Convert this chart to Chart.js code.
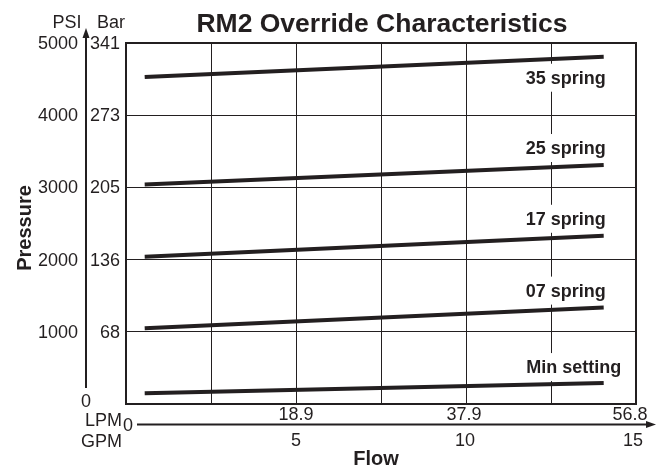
<!DOCTYPE html>
<html><head><meta charset="utf-8">
<script src="https://cdn.jsdelivr.net/npm/chart.js@4/dist/chart.umd.min.js"></script>
<style>html,body{margin:0;padding:0;background:#fff}#wrap{width:660px;height:469px}</style>
</head><body><div id="wrap"><canvas id="c" width="660" height="469"></canvas></div>
<script>
// ---- data ----
const flowGPM = [0.55, 14.05];
const seriesNames = ['Min setting', '07 spring', '17 spring', '25 spring', '35 spring'];
const minSetting = [150, 290];
const spring07 = [1050, 1335];
const spring17 = [2040, 2330];
const spring25 = [3040, 3310];
const spring35 = [4530, 4810];
const psiTicks = [0, 1000, 2000, 3000, 4000, 5000];
const barTicks = ['', '68', '136', '205', '273', '341'];
const gpmTicks = [5, 10, 15];
const lpmTicks = ['18.9', '37.9', '56.8'];
const titleText = 'RM2 Override Characteristics';

const INK = '#231f20';
const FONT = "'Liberation Sans', Arial, Helvetica, sans-serif";
const seriesValues = [minSetting, spring07, spring17, spring25, spring35];
// label offsets from the end point of each line (px)
const labelOffsets = [[-30, -16], [-38, -17], [-38, -17], [-38, -17], [-38, 21]];
// small horizontal nudges of the x tick labels (px)
const lpmNudge = [0, -2, -6];
const gpmNudge = [0, -1, -3];

const datasets = seriesValues.map((vals, i) => ({
  label: seriesNames[i],
  data: flowGPM.map((x, j) => ({x: x, y: vals[j]})),
  borderColor: INK,
  backgroundColor: INK,
  borderWidth: 4,
  pointRadius: 0,
  fill: false,
  tension: 0,
  borderCapStyle: 'butt',
  labelOffset: labelOffsets[i]
}));

const decor = {
  id: 'decor',
  beforeDatasetsDraw(chart) {
    const ctx = chart.ctx, a = chart.chartArea;
    ctx.save();
    // frame
    ctx.strokeStyle = INK; ctx.lineWidth = 2;
    ctx.strokeRect(a.left, a.top, a.right - a.left, a.bottom - a.top);
    // series labels with white boxes
    ctx.font = 'bold 18px ' + FONT;
    ctx.textAlign = 'center'; ctx.textBaseline = 'middle';
    chart.data.datasets.forEach((ds, i) => {
      const meta = chart.getDatasetMeta(i);
      const pt = meta.data[meta.data.length - 1];
      const cx = pt.x + ds.labelOffset[0], cy = pt.y + ds.labelOffset[1];
      const w = ctx.measureText(ds.label).width;
      ctx.fillStyle = '#fff';
      ctx.fillRect(cx - w / 2 - 4, cy - 14, w + 8, 28);
      ctx.fillStyle = INK;
      ctx.fillText(ds.label, cx, cy + 1);
    });
    ctx.restore();
  },
  afterDraw(chart) {
    const ctx = chart.ctx, a = chart.chartArea;
    const xs = chart.scales.x, ys = chart.scales.y;
    ctx.save();
    ctx.fillStyle = INK; ctx.strokeStyle = INK;
    // title
    ctx.font = 'bold 26.5px ' + FONT;
    ctx.textAlign = 'center'; ctx.textBaseline = 'alphabetic';
    ctx.fillText(titleText, 382, 31.5);
    // y axis arrow
    const ax = 86;
    ctx.lineWidth = 2;
    ctx.beginPath(); ctx.moveTo(ax, a.bottom - 16); ctx.lineTo(ax, a.top - 7); ctx.stroke();
    ctx.beginPath(); ctx.moveTo(ax, a.top - 15); ctx.lineTo(ax - 3.5, a.top - 5); ctx.lineTo(ax + 3.5, a.top - 5); ctx.closePath(); ctx.fill();
    // y tick labels
    ctx.font = '18px ' + FONT;
    ctx.textBaseline = 'middle';
    psiTicks.forEach((v, i) => {
      const py = ys.getPixelForValue(v);
      if (v === 0) { ctx.textAlign = 'center'; ctx.fillText(String(v), ax, py - 2); }
      else { ctx.textAlign = 'right'; ctx.fillText(String(v), 78, py + 1); }
      if (barTicks[i]) { ctx.textAlign = 'right'; ctx.fillText(barTicks[i], 120, py + 1); }
    });
    ctx.textAlign = 'center';
    ctx.fillText('PSI', 67, 23);
    ctx.fillText('Bar', 111, 23);
    // Pressure title
    ctx.save();
    ctx.translate(25, 228); ctx.rotate(-Math.PI / 2);
    ctx.font = 'bold 20px ' + FONT;
    ctx.fillText('Pressure', 0, 0);
    ctx.restore();
    // x axis arrow
    const ay = 424.5;
    ctx.lineWidth = 2;
    ctx.beginPath(); ctx.moveTo(137, ay); ctx.lineTo(648, ay); ctx.stroke();
    ctx.beginPath(); ctx.moveTo(656, ay); ctx.lineTo(646, ay - 3.5); ctx.lineTo(646, ay + 3.5); ctx.closePath(); ctx.fill();
    // x tick labels
    ctx.font = '18px ' + FONT;
    ctx.textAlign = 'center';
    gpmTicks.forEach((v, i) => {
      const px = xs.getPixelForValue(v);
      ctx.fillText(lpmTicks[i], px + lpmNudge[i], 415);
      ctx.fillText(String(v), px + gpmNudge[i], 441);
    });
    ctx.fillText('0', 128, 426);
    ctx.textAlign = 'right';
    ctx.fillText('LPM', 122, 421);
    ctx.fillText('GPM', 122, 442);
    ctx.textAlign = 'center';
    ctx.font = 'bold 20px ' + FONT;
    ctx.fillText('Flow', 376, 459);
    ctx.restore();
  }
};

new Chart(document.getElementById('c'), {
  type: 'line',
  data: {datasets: datasets},
  options: {
    responsive: false,
    animation: false,
    devicePixelRatio: 1,
    layout: {padding: {left: 126, top: 43, right: 24, bottom: 65}},
    plugins: {legend: {display: false}, tooltip: {enabled: false}, title: {display: false}},
    scales: {
      x: {
        type: 'linear', min: 0, max: 15,
        ticks: {display: false, stepSize: 2.5},
        grid: {color: INK, lineWidth: 1, drawTicks: false},
        border: {display: false},
        afterFit(s) { s.height = 0; }
      },
      y: {
        type: 'linear', min: 0, max: 5000,
        ticks: {display: false, stepSize: 1000},
        grid: {color: INK, lineWidth: 1, drawTicks: false},
        border: {display: false},
        afterFit(s) { s.width = 0; }
      }
    }
  },
  plugins: [decor]
});
</script>
</body></html>
